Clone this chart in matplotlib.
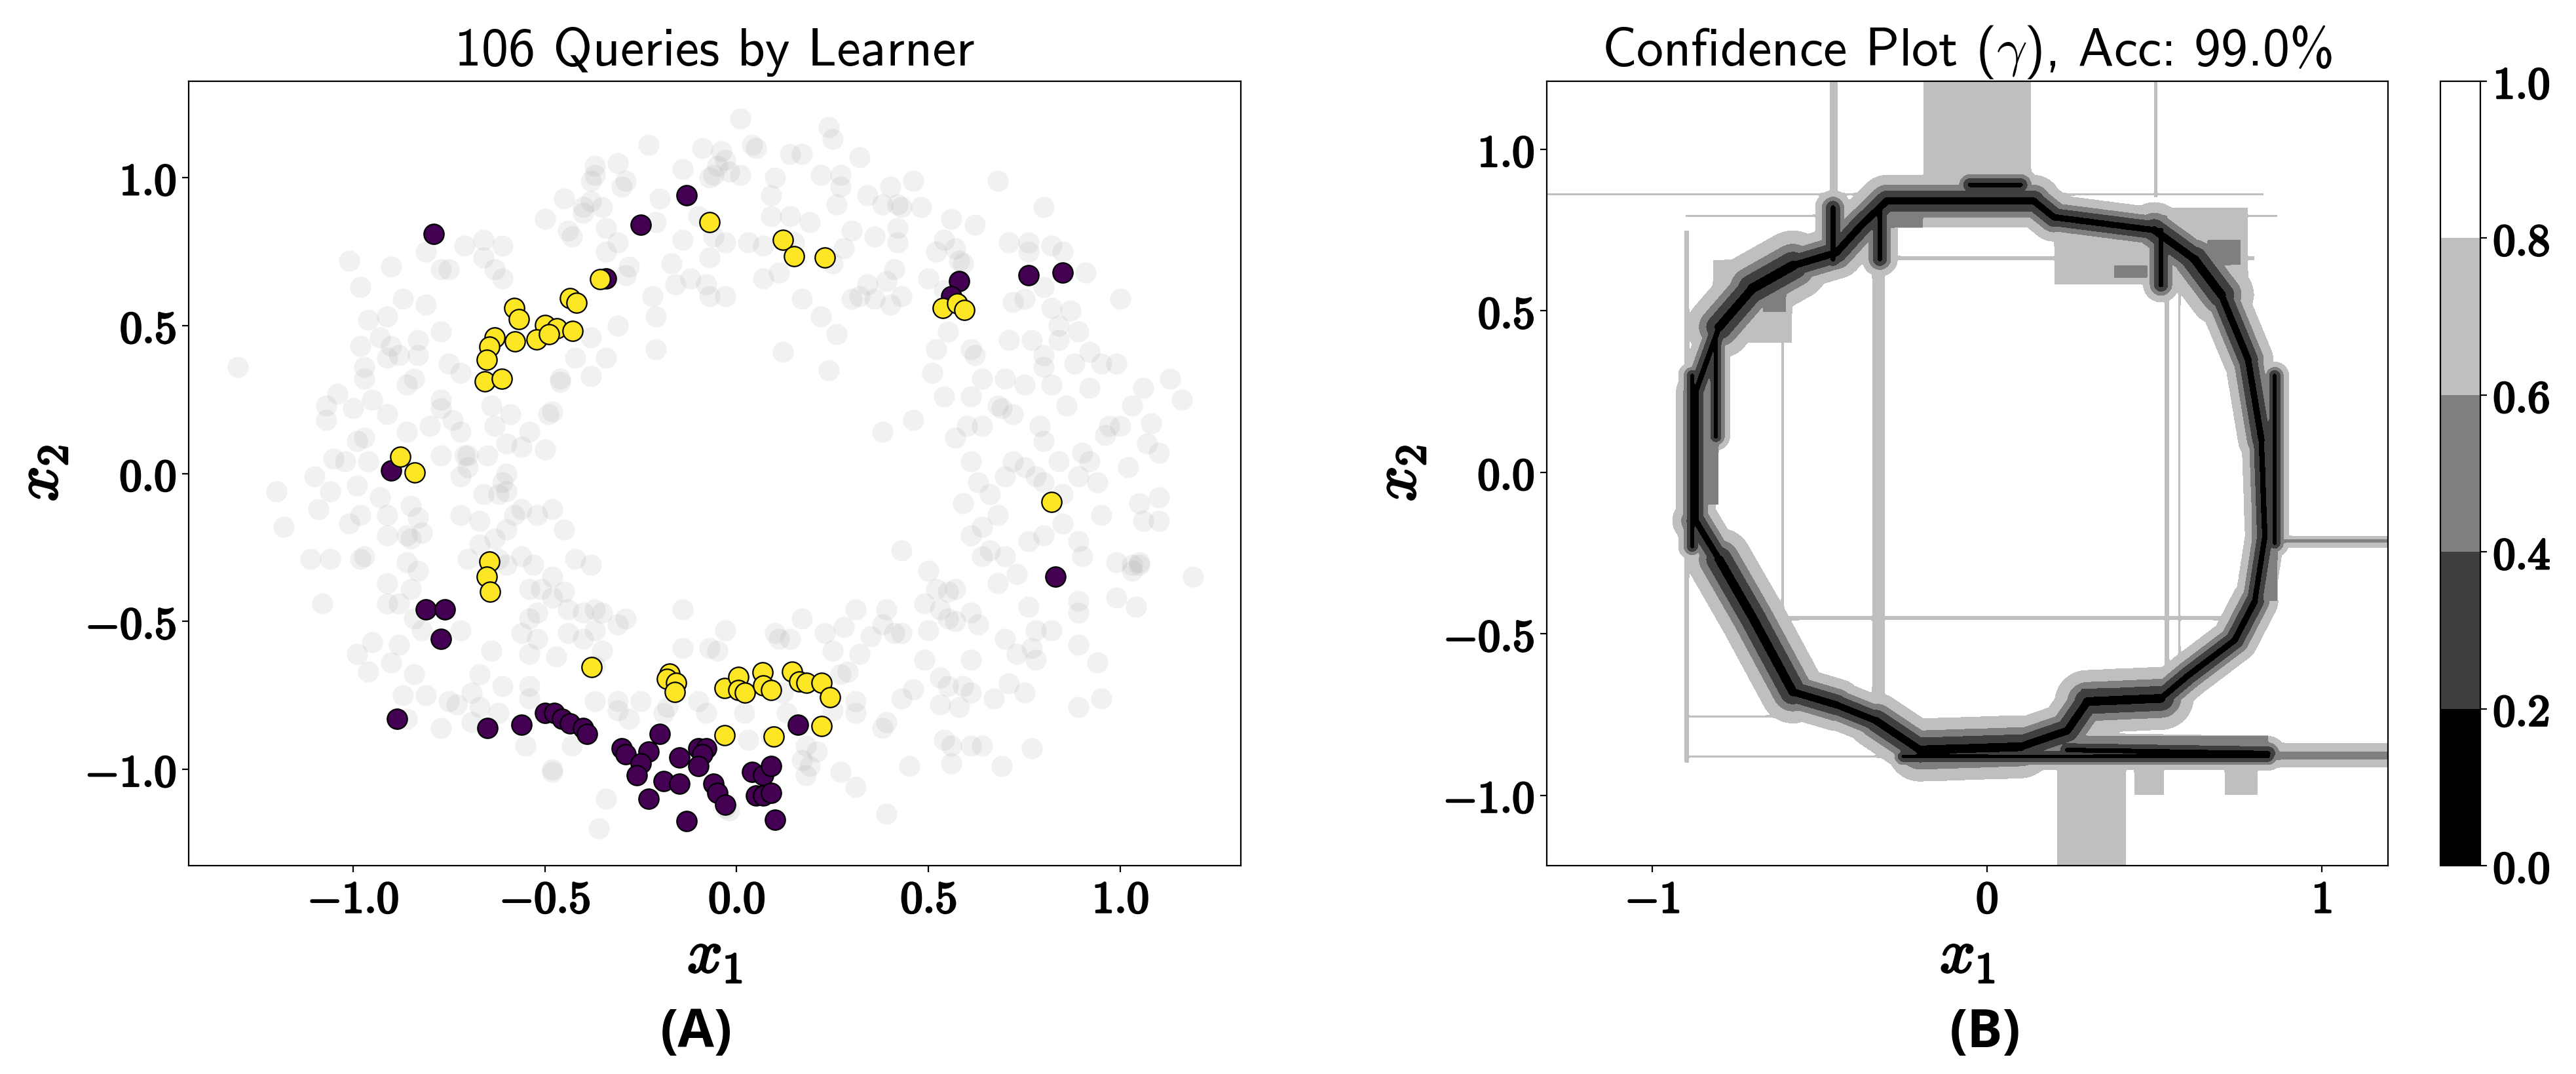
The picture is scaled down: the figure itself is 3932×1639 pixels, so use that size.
import os
import numpy as np
import matplotlib
matplotlib.use('Agg')
import matplotlib.pyplot as plt
import matplotlib.font_manager as fm
import matplotlib.patheffects as pe
from matplotlib.ticker import FuncFormatter

plt.rcParams['mathtext.fontset'] = 'cm'
fm.fontManager.addfont(os.path.join(matplotlib.get_data_path(), 'fonts', 'ttf', 'cmss10.ttf'))

# ---------------- data: panel A ----------------
background_pts = [
    (0.01,1.20),(0.24,1.17),(0.25,1.13),(-0.23,1.11),(-0.09,1.10),(-0.04,1.09),(-0.03,1.06),(-0.05,1.04),
    (-0.02,1.02),(-0.06,1.01),(-0.07,1.00),(0.01,1.01),(0.04,1.11),(0.05,1.10),(0.14,1.08),(0.17,1.08),
    (0.32,1.07),(-0.31,1.05),(-0.37,1.04),(-0.37,1.01),(-0.38,0.99),(-0.29,0.99),(-0.30,0.97),(-0.14,1.03),
    (0.10,1.00),(0.22,1.01),(0.27,1.01),(0.27,0.97),(0.26,0.91),(0.46,0.99),(0.68,0.99),(0.40,0.97),
    (0.42,0.91),(0.48,0.90),(0.43,0.90),(0.38,0.91),(0.34,0.94),(-0.45,0.93),(-0.40,0.90),(-0.40,0.88),
    (-0.35,0.90),(-0.38,0.92),(-0.50,0.86),(-0.44,0.82),(-0.43,0.80),(-0.34,0.83),(-0.34,0.75),(-0.31,0.78),
    (-0.20,0.93),(-0.21,0.85),(-0.10,0.87),(-0.06,0.80),(-0.03,0.78),(-0.07,0.73),(0.09,0.94),(0.09,0.87),
    (0.14,0.87),(0.19,0.85),(0.15,0.78),(0.07,0.77),(0.03,0.78),(0.56,0.86),(0.62,0.84),(0.54,0.79),
    (0.57,0.76),(0.80,0.90),(0.36,0.80),(0.42,0.83),(0.42,0.78),(0.30,0.82),(0.28,0.76),(0.25,0.71),
    (0.71,0.78),(0.76,0.78),(0.76,0.75),(0.82,0.77),(0.85,0.75),(0.91,0.68),(1.00,0.59),(0.52,0.75),
    (0.58,0.72),(0.59,0.71),(0.41,0.69),(0.34,0.64),(0.39,0.65),(0.32,0.60),(0.30,0.59),(0.36,0.59),
    (0.40,0.57),(0.43,0.60),(0.50,0.66),(0.54,0.62),(0.80,0.63),(0.82,0.56),(0.87,0.55),(0.84,0.50),
    (0.89,0.48),(0.84,0.45),(0.72,0.58),(0.75,0.59),
    (-1.01,0.72),(-0.98,0.63),(-0.90,0.70),(-0.87,0.59),(-0.81,0.57),(-0.77,0.69),(-0.75,0.69),(-0.71,0.77),
    (-0.66,0.79),(-0.66,0.73),(-0.63,0.69),(-0.61,0.77),(-0.61,0.66),(-0.77,0.48),(-0.81,0.75),(-0.96,0.52),
    (-0.91,0.53),(-0.93,0.46),(-0.98,0.43),(-0.90,0.43),(-0.88,0.40),(-0.83,0.45),(-0.83,0.40),(-0.97,0.36),
    (-0.97,0.32),(-0.91,0.39),(-0.86,0.30),(-0.84,0.32),(-0.75,0.37),(-0.72,0.34),(-1.30,0.36),(-1.07,0.23),
    (-1.04,0.27),(-1.07,0.18),(-1.00,0.22),(-0.95,0.25),(-0.91,0.20),(-0.86,0.14),(-0.80,0.16),(-0.77,0.25),
    (-0.77,0.22),(-0.74,0.18),(-0.72,0.14),(-0.64,0.23),(-0.63,0.16),(-0.59,0.20),(-0.54,0.14),(-0.60,0.10),
    (-0.49,0.20),
    (-0.99,0.11),(-0.97,0.12),(-1.02,0.04),(-0.96,0.04),(-1.05,0.05),(-1.10,-0.01),(-1.06,-0.06),(-1.20,-0.06),
    (-1.09,-0.12),(-1.18,-0.18),(-1.11,-0.29),(-1.06,-0.29),(-0.98,-0.29),(-0.97,-0.28),(-0.99,-0.04),(-0.93,-0.08),
    (-0.98,-0.14),(-1.01,-0.17),(-0.91,-0.14),(-0.85,-0.11),(-0.83,-0.15),(-0.91,-0.21),(-0.86,-0.21),(-0.85,-0.22),
    (-0.82,-0.20),(-0.77,0.06),(-0.70,0.06),(-0.72,-0.01),(-0.70,0.02),(-0.65,0.06),(-0.61,-0.03),(-0.60,-0.06),
    (-0.56,0.09),(-0.72,-0.14),(-0.67,-0.16),(-0.63,-0.22),(-0.60,-0.19),(-0.56,-0.12),(-0.52,-0.14),(-0.48,-0.12),
    (-0.45,-0.19),(-0.70,-0.29),(-0.67,-0.24),(-0.62,-0.29),(-0.60,-0.31),(-0.56,-0.28),(-0.53,-0.31),(-0.48,-0.35),
    (-0.42,-0.29),(-0.38,-0.31),
    (-0.86,-0.30),(-0.83,-0.33),(-0.91,-0.37),(-0.85,-0.39),(-1.08,-0.44),(-0.91,-0.44),(-0.88,-0.44),(-0.84,-0.49),
    (-0.82,-0.53),(-0.72,-0.53),(-0.99,-0.61),(-0.95,-0.57),(-0.88,-0.58),(-0.96,-0.67),(-0.90,-0.64),(-0.84,-0.68),
    (-0.87,-0.75),(-0.81,-0.75),(-0.75,-0.77),(-0.73,-0.78),(-0.69,-0.74),(-0.67,-0.68),(-0.61,-0.72),(-0.64,-0.60),
    (-0.54,-0.39),(-0.51,-0.39),(-0.48,-0.42),(-0.45,-0.40),(-0.54,-0.49),(-0.52,-0.47),(-0.56,-0.54),(-0.52,-0.56),
    (-0.54,-0.61),(-0.47,-0.62),(-0.44,-0.46),(-0.40,-0.47),(-0.37,-0.46),(-0.35,-0.47),(-0.31,-0.51),(-0.29,-0.49),
    (-0.37,-0.53),(-0.44,-0.54),(-0.40,-0.56),(-0.35,-0.60),(-0.37,-0.65),(-0.54,-0.72),(-0.54,-0.76),(-0.55,-0.92),
    (-0.48,-1.00),(-0.43,-0.92),(-0.37,-0.77),(-0.31,-0.77),
    (-0.19,-0.81),(-0.18,-0.79),(-0.14,-0.59),(-0.14,-0.46),(-0.07,-0.59),(-0.05,-0.60),(-0.03,-0.53),(0.03,-0.90),
    (0.09,-0.89),(0.11,-0.56),(0.10,-0.54),(0.14,-0.56),(0.17,-0.49),(0.23,-0.54),(0.28,-0.52),(0.25,-0.60),
    (0.27,-0.68),(0.29,-0.67),(0.31,-0.46),(0.32,-0.61),(0.35,-0.55),(0.38,-0.51),(0.39,-0.46),(0.41,-0.54),
    (0.43,-0.26),(0.50,-0.33),(0.52,-0.39),(0.49,-0.44),(0.53,-0.46),(0.55,-0.40),(0.57,-0.39),(0.17,-0.97),
    (0.19,-0.99),(0.18,-1.02),(0.27,-1.01),(0.31,-1.06),(0.39,-1.15),(0.02,-0.81),(-0.03,-1.13),(-0.02,-1.14),
    (-0.36,-1.20),(-0.34,-1.10),(-0.48,-1.01),
    (0.38,-0.86),(0.39,-0.84),(0.43,-0.76),(0.46,-0.73),(0.49,-0.63),(0.53,-0.69),(0.55,-0.72),(0.59,-0.72),
    (0.53,-0.78),(0.58,-0.79),(0.45,-0.99),(0.54,-0.90),(0.56,-0.92),(0.56,-0.98),(0.61,-0.92),(0.64,-0.92),
    (0.69,-0.99),(0.67,-0.76),(0.71,-0.71),(0.77,-0.59),(0.78,-0.53),(0.82,-0.53),(0.75,-0.74),(0.77,-0.93),
    (0.89,-0.79),(0.95,-0.76),(0.89,-0.58),(0.94,-0.64),(0.89,-0.43),(0.61,-0.47),(0.63,-0.51),(0.57,-0.50),
    (0.50,-0.53),(0.61,-0.63),(0.70,-0.56),(0.76,-0.45),(0.73,-0.61),(0.78,-0.63),
    (0.64,-0.28),(0.66,-0.26),(0.70,-0.28),(0.68,-0.37),(0.73,-0.34),(0.76,-0.23),(0.80,-0.21),(0.85,-0.17),
    (0.89,-0.23),(0.90,-0.28),(0.99,-0.30),(1.03,-0.31),(1.05,-0.30),(1.06,-0.16),(1.10,-0.08),(1.10,-0.16),
    (1.19,-0.35),(1.04,-0.45),(0.99,-0.42),(0.59,-0.10),(0.63,-0.03),(0.66,-0.07),(0.64,-0.18),(0.61,-0.21),
    (0.68,-0.14),(0.70,-0.01),(0.72,0.04),(0.75,0.02),(0.78,-0.01),(0.80,-0.03),(0.85,-0.07),(0.89,-0.01),
    (0.94,-0.03),(0.95,-0.14),(1.02,0.02),(1.05,-0.10),(0.57,0.12),(0.61,0.04),(0.60,0.16),(0.64,0.16),
    (0.68,0.23),(0.69,0.22),(0.72,0.20),(0.79,0.16),(0.80,0.11),(0.84,0.04),(0.90,0.07),(0.92,0.04),
    (0.96,0.13),(0.97,0.16),(1.00,0.16),(1.03,0.23),(1.08,0.17),(1.07,0.10),(1.10,0.07),(0.51,0.34),
    (0.54,0.26),(0.61,0.26),(0.64,0.32),(0.70,0.32),(0.75,0.30),(0.80,0.36),(0.82,0.30),(0.86,0.23),
    (0.88,0.37),(0.92,0.29),(0.95,0.37),(0.99,0.37),(1.06,0.29),(1.13,0.32),(1.16,0.25),(0.52,0.42),
    (0.55,0.48),(0.61,0.42),(0.62,0.40),(0.71,0.45),(0.77,0.45),(0.80,0.40),(0.92,0.41),(0.38,0.14),
    (0.46,0.18),
    (0.12,0.41),(0.24,0.35),(0.26,0.47),(0.22,0.53),(0.17,0.59),(0.11,0.68),(0.07,0.66),(-0.21,0.53),
    (-0.21,0.42),(-0.31,0.50),(-0.38,0.46),(-0.34,0.39),(-0.42,0.39),(-0.46,0.31),(-0.38,0.33),(-0.22,0.60),
    (-0.16,0.64),(-0.12,0.66),(-0.08,0.64),(-0.07,0.60),(-0.03,0.60),(-0.28,0.70),(-0.29,0.67),(-0.14,0.79),
    (-0.17,0.71),(-0.50,0.08),(-0.46,0.32),(-0.48,0.21),(-0.60,0.00),(-0.66,-0.07),(-0.71,0.06),(-0.62,-0.07),
    (-0.58,-0.14),(0.31,-0.81),(0.25,-0.80),(0.31,-0.77),(0.43,-0.54),(0.55,-0.49),(0.61,-0.74),(0.12,-0.74),
    (0.13,-0.81),(0.18,-0.92),(0.21,-0.94),(-0.08,-0.81),(-0.10,-0.77),(-0.25,-0.77),(-0.31,-0.80),(-0.28,-0.83),
    (-0.67,-0.79),(-0.69,-0.84),(-0.62,-0.81),(-0.77,-0.86),(-0.86,-0.83),(0.89,-0.47),(1.03,-0.33),(1.05,-0.31),
]

queries_class0 = [
    (-0.79,0.81),(-0.13,0.94),(-0.25,0.84),(-0.34,0.66),(0.58,0.65),(0.56,0.60),(0.76,0.67),(0.85,0.68),
    (-0.90,0.01),(0.83,-0.35),(-0.81,-0.46),(-0.76,-0.46),(-0.77,-0.56),(-0.885,-0.83),(-0.65,-0.86),(-0.56,-0.85),
    (-0.50,-0.81),(-0.475,-0.81),(-0.455,-0.83),(-0.435,-0.845),(-0.40,-0.86),(-0.39,-0.88),(-0.30,-0.93),(-0.29,-0.95),
    (-0.20,-0.88),(-0.23,-0.94),(-0.25,-0.98),(-0.26,-1.02),(-0.19,-1.04),(-0.15,-0.96),(-0.15,-1.05),(-0.23,-1.10),
    (-0.13,-1.175),(-0.10,-0.93),(-0.08,-0.93),(-0.09,-0.95),(-0.10,-0.99),(-0.06,-1.05),(-0.05,-1.08),(-0.03,-1.12),
    (0.04,-1.01),(0.07,-1.02),(0.09,-0.99),(0.05,-1.09),(0.07,-1.09),(0.09,-1.08),(0.10,-1.17),(0.16,-0.85),
]
queries_class1 = [
    (-0.07,0.85),(0.12,0.79),(0.15,0.735),(0.23,0.73),(-0.355,0.657),(-0.434,0.592),(-0.418,0.577),(-0.579,0.559),
    (-0.567,0.521),(-0.499,0.502),(-0.468,0.491),(-0.427,0.482),(-0.522,0.453),(-0.489,0.47),(-0.63,0.46),(-0.644,0.428),
    (-0.652,0.385),(-0.657,0.312),(-0.612,0.32),(-0.578,0.447),(0.537,0.559),(0.575,0.576),(0.593,0.553),(-0.876,0.057),
    (-0.839,0.004),(0.82,-0.097),(-0.645,-0.299),(-0.652,-0.35),(-0.643,-0.399),(-0.378,-0.654),(-0.175,-0.677),(-0.182,-0.694),
    (-0.157,-0.708),(-0.161,-0.739),(-0.032,-0.726),(0.005,-0.689),(0.004,-0.733),(0.021,-0.742),(0.067,-0.673),(0.069,-0.716),
    (0.09,-0.733),(0.145,-0.671),(0.164,-0.703),(0.182,-0.708),(0.221,-0.708),(0.244,-0.756),(0.221,-0.853),(0.097,-0.89),
    (-0.032,-0.885),
]
n_queries = 106

# ---------------- data: panel B (confidence map) ----------------
# low-confidence ring path (x, y, half-width of dark core)
ring_path = [
    (-0.30,0.84,0.015),(0.14,0.84,0.014),(0.20,0.79,0.013),(0.50,0.75,0.016),(0.62,0.66,0.018),
    (0.70,0.55,0.014),(0.78,0.35,0.013),(0.82,0.10,0.011),(0.83,-0.20,0.011),(0.80,-0.40,0.013),
    (0.74,-0.52,0.013),(0.60,-0.63,0.013),(0.52,-0.70,0.018),(0.30,-0.71,0.016),(0.24,-0.80,0.016),
    (0.10,-0.85,0.018),(-0.20,-0.86,0.016),(-0.33,-0.77,0.014),(-0.45,-0.72,0.015),(-0.58,-0.68,0.018),
    (-0.70,-0.45,0.018),(-0.80,-0.27,0.013),(-0.87,-0.15,0.011),(-0.87,0.25,0.011),(-0.80,0.45,0.018),
    (-0.70,0.57,0.020),(-0.58,0.64,0.015),(-0.45,0.68,0.015),(-0.38,0.76,0.015),(-0.30,0.84,0.015),
]
extra_segments = [  # (x0, y0, x1, y1, half-width)
    (0.24,-0.86,0.84,-0.87,0.010),(0.86,0.30,0.86,-0.22,0.008),
    (-0.88,0.30,-0.88,-0.23,0.008),(-0.81,0.43,-0.81,0.11,0.008),
    (-0.05,0.89,0.10,0.89,0.010),(-0.46,0.82,-0.46,0.66,0.010),(-0.32,0.82,-0.32,0.66,0.010),
    (0.52,0.75,0.52,0.58,0.010),(-0.25,-0.88,0.84,-0.88,0.008),
]
streaks = [  # (x0, x1, y0, y1, confidence)
    (-0.19,0.133,0.87,1.30,0.7),(-0.47,-0.445,0.85,1.30,0.7),(0.497,0.51,0.85,1.30,0.7),
    (0.21,0.415,-1.30,-0.90,0.7),(0.44,0.53,-1.00,-0.90,0.7),(0.71,0.81,-1.00,-0.90,0.7),
    (0.80,1.30,-0.915,-0.835,0.7),(0.80,1.30,-0.89,-0.865,0.5),
    (0.86,1.30,-0.235,-0.195,0.7),(0.86,1.30,-0.218,-0.207,0.5),
    (-1.40,0.83,0.856,0.866,0.7),(-0.90,0.87,0.79,0.80,0.7),
    (-0.345,-0.305,-0.78,0.68,0.7),(-0.615,-0.605,-0.70,0.45,0.7),
    (0.53,0.545,-0.68,0.60,0.7),(0.57,0.58,-0.62,0.58,0.7),
    (-0.60,0.76,-0.458,-0.444,0.7),(-0.60,0.80,0.655,0.67,0.7),
    (-0.905,-0.89,-0.90,0.75,0.7),(-0.90,-0.30,-0.76,-0.75,0.7),(-0.90,-0.30,-0.885,-0.875,0.7),
    (0.20,0.78,0.58,0.82,0.7),(-0.82,-0.58,0.40,0.66,0.7),
    (-0.286,-0.19,0.757,0.85,0.5),(0.277,0.538,0.737,0.797,0.5),(0.38,0.48,0.60,0.64,0.5),
    (0.66,0.76,0.64,0.72,0.5),(-0.67,-0.60,0.495,0.55,0.5),(-0.895,-0.80,-0.10,0.30,0.5),
    (0.79,0.87,-0.40,0.30,0.5),(-0.27,0.84,-0.895,-0.815,0.5),(0.28,0.52,-0.74,-0.67,0.3),
]
conf_levels = [0.0, 0.2, 0.4, 0.6, 0.8, 1.0]
conf_colors = ['#000000', '#3f3f3f', '#7f7f7f', '#bfbfbf', '#ffffff']
accuracy = 99.0

# ---------------- figure ----------------
W, H = 3932, 1640
fig = plt.figure(figsize=(W/200, H/200), dpi=200)
axA = fig.add_axes([288/W, 1-1322/H, (1894-288)/W, (1322-125)/H])
axB = fig.add_axes([2361/W, 1-1322/H, (3645-2361)/W, (1322-125)/H])
cax = fig.add_axes([3725/W, 1-1322/H, 61/W, (1322-125)/H])

def bold_fmt(dec):
    def f(v, pos):
        s = f'{v:.{dec}f}'
        if s.startswith('-'):
            return r'$\mathbf{-' + s[1:] + '}$'
        return r'$\mathbf{' + s + '}$'
    return FuncFormatter(f)

tick_fs = 24.5
lab_fs = 34
title_fs = 29.5
title_font = {'family': 'cmss10', 'size': title_fs}

# Panel A
bg = np.array(background_pts)
axA.scatter(bg[:, 0], bg[:, 1], s=135, color='gray', alpha=0.11, linewidths=0, zorder=1)
q0 = np.array(queries_class0)
q1 = np.array(queries_class1)
axA.scatter(q0[:, 0], q0[:, 1], s=120, color='#440154', edgecolors='black', linewidths=0.8, zorder=2)
axA.scatter(q1[:, 0], q1[:, 1], s=120, color='#fde725', edgecolors='black', linewidths=0.8, zorder=3)
axA.set_xlim(-1.428, 1.314)
axA.set_ylim(-1.326, 1.326)
axA.set_xticks([-1.0, -0.5, 0.0, 0.5, 1.0])
axA.set_yticks([-1.0, -0.5, 0.0, 0.5, 1.0])
axA.xaxis.set_major_formatter(bold_fmt(1))
axA.yaxis.set_major_formatter(bold_fmt(1))
axA.set_title(f'{n_queries} Queries by Learner', fontdict=title_font, pad=9)

# Panel B
xs = np.linspace(-1.315, 1.198, 800)
ys = np.linspace(-1.218, 1.211, 800)
XX, YY = np.meshgrid(xs, ys)

def seg_dist(px, py, x0, y0, x1, y1):
    dx, dy = x1 - x0, y1 - y0
    L2 = dx * dx + dy * dy
    t = np.clip(((px - x0) * dx + (py - y0) * dy) / L2, 0, 1)
    return np.hypot(px - (x0 + t * dx), py - (y0 + t * dy))

R = np.full(XX.shape, 100.0)   # distance in units of core half-width
for (x0, y0, w), (x1, y1, _) in zip(ring_path[:-1], ring_path[1:]):
    R = np.minimum(R, seg_dist(XX, YY, x0, y0, x1, y1) / w)
for x0, y0, x1, y1, w in extra_segments:
    R = np.minimum(R, seg_dist(XX, YY, x0, y0, x1, y1) / w)
Z = np.interp(R, [0, 0.8, 2.2, 3.4, 5.5, 6.5], [0.0, 0.2, 0.4, 0.6, 0.8, 0.99])
for x0, x1, y0, y1, v in streaks:
    m = (XX >= x0) & (XX <= x1) & (YY >= y0) & (YY <= y1)
    Z[m] = np.minimum(Z[m], v)
Z = np.clip(Z, 0.0, 0.99)

cs = axB.contourf(XX, YY, Z, levels=conf_levels, colors=conf_colors)
axB.set_xlim(-1.315, 1.198)
axB.set_ylim(-1.218, 1.211)
axB.set_xticks([-1, 0, 1])
axB.set_yticks([-1.0, -0.5, 0.0, 0.5, 1.0])
axB.xaxis.set_major_formatter(bold_fmt(0))
axB.yaxis.set_major_formatter(bold_fmt(1))
axB.set_title(r'Confidence Plot ($\gamma$), Acc: ' + f'{accuracy:.1f}%', fontdict=title_font, pad=9)

cb = fig.colorbar(cs, cax=cax, ticks=conf_levels)
cb.ax.yaxis.set_major_formatter(bold_fmt(1))
cb.ax.tick_params(labelsize=tick_fs)

stroke = [pe.withStroke(linewidth=1.1, foreground='black')]
for ax in (axA, axB):
    ax.tick_params(labelsize=tick_fs)
    ax.set_xlabel(r'$x_1$', fontsize=lab_fs, labelpad=2, path_effects=stroke)
    ax.set_ylabel(r'$x_2$', fontsize=lab_fs, labelpad=8, path_effects=stroke)

fig.text(1063/W, 1-1598/H, '(A)', fontsize=29, fontweight='bold', family=['Open Sans', 'DejaVu Sans'],
         ha='center', va='baseline')
fig.text(3030/W, 1-1598/H, '(B)', fontsize=29, fontweight='bold', family=['Open Sans', 'DejaVu Sans'],
         ha='center', va='baseline')

fig.canvas.draw()
for ax in (axA, axB, cax):
    for lbl in ax.get_xticklabels() + ax.get_yticklabels():
        lbl.set_path_effects(stroke)

fig.savefig('out.png', dpi=200)
